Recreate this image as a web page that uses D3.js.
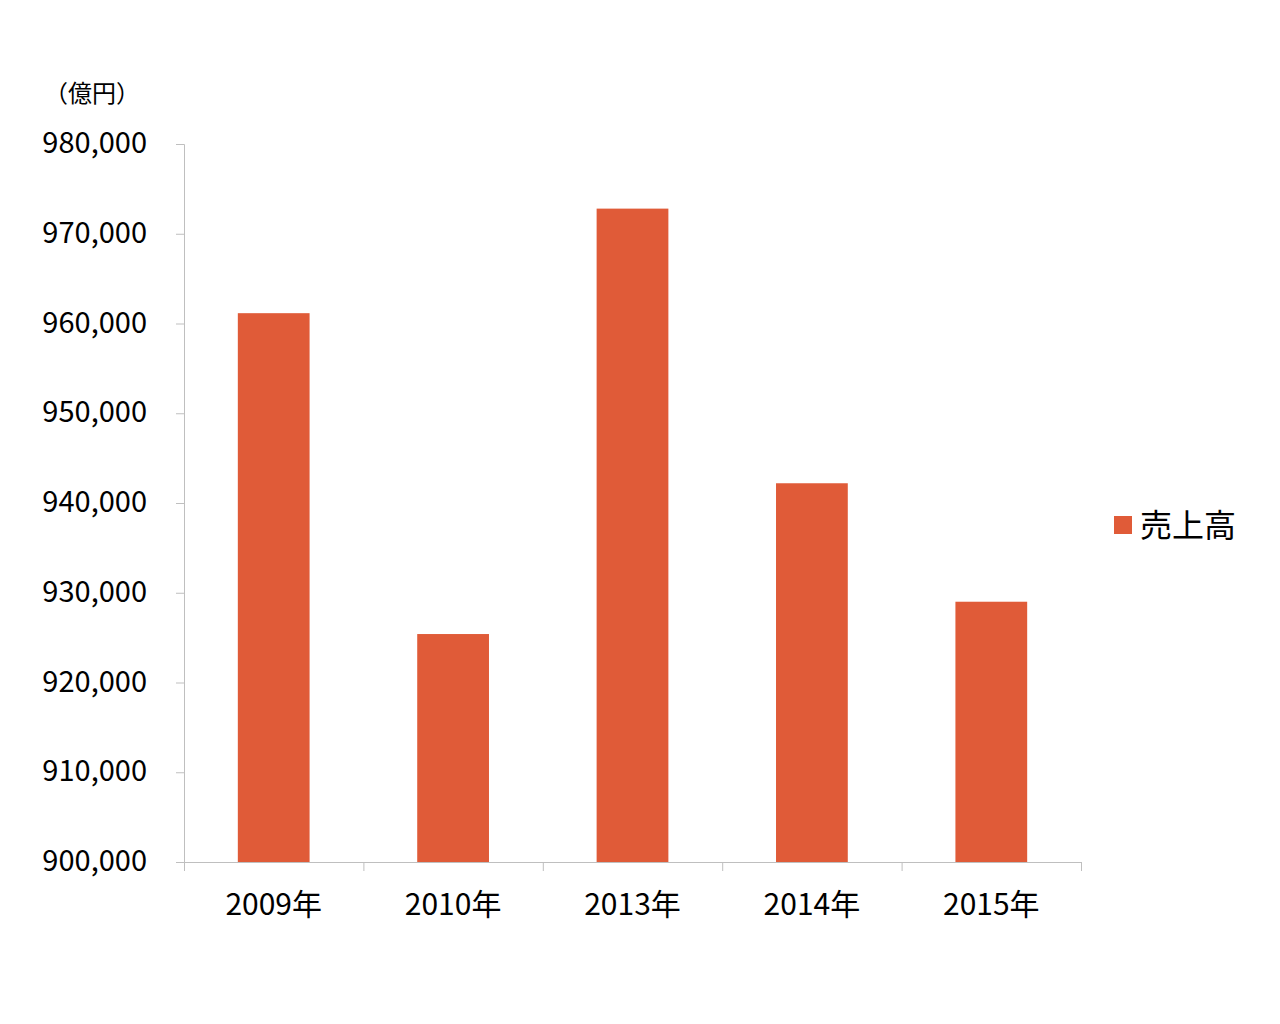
<!DOCTYPE html>
<html><head><meta charset="utf-8">
<script src="https://cdn.jsdelivr.net/npm/d3@7"></script>
<style>body{margin:0;background:#fff}text{font-family:"Noto Sans CJK JP","Noto Sans",sans-serif;fill:#000}</style>
</head><body>
<svg id="c" width="1280" height="1024"></svg>
<script>
const categories = ["2009年","2010年","2013年","2014年","2015年"];
const values = [961150, 925400, 972800, 942200, 929000];
const yTicks = [900000,910000,920000,930000,940000,950000,960000,970000,980000];
const seriesName = "売上高";
const unitLabel = "（億円）";

const svg = d3.select("#c");
const L = 184, R = 1081, T = 144, B = 862;
const x = d3.scaleBand().domain(categories).range([L, R]).padding(0);
const y = d3.scaleLinear().domain([900000, 980000]).range([B, T]);
const color = "#e05b38", axisColor = "#bfbfbf";

svg.selectAll("rect.bar").data(values).join("rect")
  .attr("class","bar")
  .attr("x",(d,i)=>x(categories[i]) + x.bandwidth()*0.3)
  .attr("width",x.bandwidth()*0.4)
  .attr("y",d=>y(d))
  .attr("height",d=>B - y(d))
  .attr("fill",color);

// y axis
const ya = svg.append("g").attr("transform",`translate(${L},0)`)
  .call(d3.axisLeft(y).tickValues(yTicks).tickSize(8).tickPadding(29).tickFormat(d3.format(",")));
ya.select(".domain").attr("stroke",axisColor);
ya.selectAll(".tick line").attr("stroke",axisColor);
ya.selectAll("text").style("font-size","29px").attr("dy","0.3em");

// x axis
const xa = svg.append("g").attr("transform",`translate(0,${B})`)
  .call(d3.axisBottom(x).tickSize(0).tickPadding(32));
xa.select(".domain").attr("stroke",axisColor);
xa.selectAll("text").style("font-size","30px");
// boundary ticks
const bounds = categories.map(c=>x(c)).concat([R]);
svg.append("g").selectAll("line").data(bounds).join("line")
  .attr("x1",d=>d+0.5).attr("x2",d=>d+0.5).attr("y1",B).attr("y2",B+9)
  .attr("stroke",axisColor);

svg.append("text").attr("x",44).attr("y",102).style("font-size","24px").text(unitLabel);

// legend
const lg = svg.append("g").attr("transform","translate(1114,516)");
lg.append("rect").attr("width",18).attr("height",18).attr("fill",color);
lg.append("text").attr("x",26).attr("y",9).attr("dy","0.36em").style("font-size","32px").text(seriesName);
</script>
</body></html>
